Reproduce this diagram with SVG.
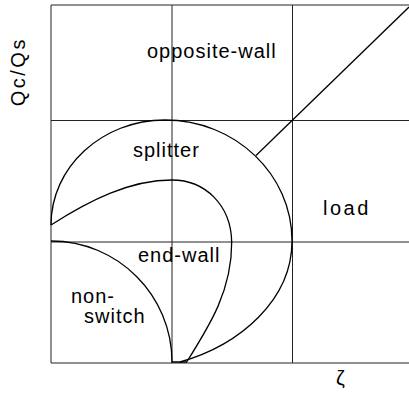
<svg xmlns="http://www.w3.org/2000/svg" width="409" height="396" viewBox="0 0 409 396">
<style>
.grid{stroke:#222;stroke-width:1;fill:none}
.curve{stroke:#000;stroke-width:1.3;fill:none}
.lbl{font-family:"Liberation Sans",Arial,sans-serif;font-size:20px;fill:#000;letter-spacing:1px}
</style>
<rect width="409" height="396" fill="#fff"/>
<g id="grid">
<path class="grid" d="M51,5 H409 M51,120.5 H409 M51,242 H409 M51,363 H409 M51,5 V363 M172,5 V363 M292.5,5 V363"/>
</g>
<g id="connectors">
<path class="curve" d="M51,225 C51,167 102,120 165,120 C235,120 292,174 292,241 C292,300 240,345 180,362"/>
<path class="curve" d="M51,225 C90,200 130,180 172,180 C205,180 231,205 231.7,242 C232,290 210,325 186.7,362"/>
<path class="curve" d="M51,241 C117.8,241 172,295.2 172,362 H187"/>
<path class="curve" d="M256,155.5 L409,7"/>
</g>
<g id="label-opposite-wall"><text class="lbl" x="147" y="58">opposite-wall</text></g>
<g id="label-splitter"><text class="lbl" x="133" y="157">splitter</text></g>
<g id="label-load"><text class="lbl" x="323" y="215" style="letter-spacing:2.5px">load</text></g>
<g id="label-end-wall"><text class="lbl" x="138" y="262">end-wall</text></g>
<g id="label-non-switch"><text class="lbl" x="71" y="303">non-</text><text class="lbl" x="84" y="322.5">switch</text></g>
<g id="label-axis-y"><text class="lbl" transform="translate(25,71.7) rotate(-90)" text-anchor="middle" style="letter-spacing:2.5px">Qc/Qs</text></g>
<g id="label-axis-x"><text class="lbl" x="341" y="385" text-anchor="middle">ζ</text></g>
</svg>
